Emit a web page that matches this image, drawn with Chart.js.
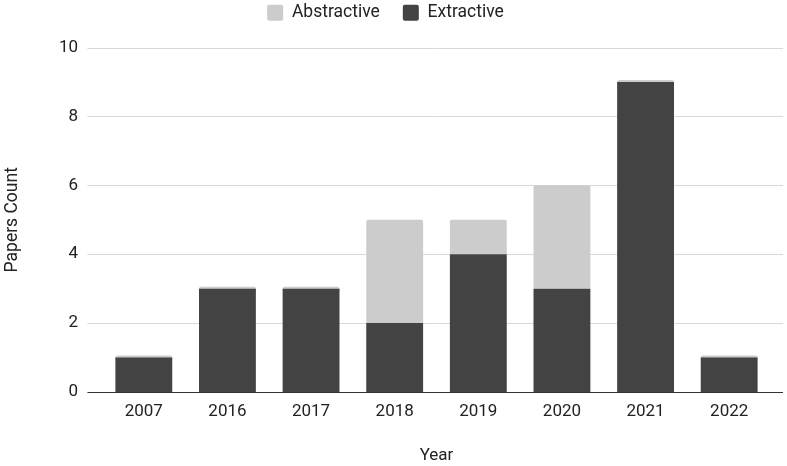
<!DOCTYPE html>
<html>
<head>
<meta charset="utf-8">
<script src="https://cdn.jsdelivr.net/npm/chart.js@4.4.1/dist/chart.umd.min.js"></script>
<style>
html,body{margin:0;padding:0;background:#fff;}
#wrap{width:787px;height:466px;}
</style>
</head>
<body>
<div id="wrap"><canvas id="c" width="787" height="466"></canvas></div>
<script>
const years = ['2007','2016','2017','2018','2019','2020','2021','2022'];
const extractive = [1, 3, 3, 2, 4, 3, 9, 1];
const abstractive = [0, 0, 0, 3, 1, 3, 0, 0];
const yTicks = [0, 2, 4, 6, 8, 10];

const TEXT = '#222222';
const FONT = 'Roboto';

const gridPlugin = {
  id: 'extGrid',
  beforeLayout(chart) {
    const l = chart.legend;
    if (l && !l._patched) {
      const f = l.fit.bind(l);
      l.fit = function () { f(); this.height += 16; };
      l._patched = true;
    }
  },
  beforeDatasetsDraw(chart) {
    const {ctx, chartArea, scales} = chart;
    const y = scales.y;
    ctx.save();
    ctx.strokeStyle = '#d9d9d9';
    ctx.lineWidth = 1;
    y.ticks.forEach(t => {
      if (t.value === 0) return;
      const py = Math.round(y.getPixelForValue(t.value)) + 0.5;
      ctx.beginPath();
      ctx.moveTo(chartArea.left - 14.6, py);
      ctx.lineTo(chartArea.right + 12, py);
      ctx.stroke();
    });
    ctx.restore();
  },
  afterDatasetsDraw(chart) {
    const {ctx, chartArea, scales} = chart;
    const py = Math.round(scales.y.getPixelForValue(0)) + 0.5;
    ctx.save();
    ctx.strokeStyle = '#333333';
    ctx.lineWidth = 1.2;
    ctx.beginPath();
    ctx.moveTo(chartArea.left - 14.6, py);
    ctx.lineTo(chartArea.right + 12, py);
    ctx.stroke();
    ctx.restore();
  }
};

new Chart(document.getElementById('c'), {
  type: 'bar',
  data: {
    labels: years,
    datasets: [
      {
        label: 'Extractive',
        data: extractive,
        backgroundColor: '#434343',
        borderWidth: 0,
        borderRadius: 0,
        barPercentage: 0.68,
        categoryPercentage: 1.0
      },
      {
        label: 'Abstractive',
        data: abstractive,
        backgroundColor: '#cccccc',
        borderWidth: 0,
        borderRadius: {topLeft: 2, topRight: 2, bottomLeft: 0, bottomRight: 0},
        borderSkipped: false,
        minBarLength: 4,
        barPercentage: 0.68,
        categoryPercentage: 1.0
      }
    ]
  },
  options: {
    responsive: false,
    devicePixelRatio: 1,
    animation: false,
    layout: {padding: {left: 0, right: 16, top: -19, bottom: 0}},
    plugins: {
      legend: {
        position: 'top',
        reverse: true,
        labels: {
          color: TEXT,
          font: {family: FONT, size: 17.5},
          boxWidth: 16,
          boxHeight: 16,
          useBorderRadius: true,
          borderRadius: 2,
          padding: 23
        }
      },
      tooltip: {enabled: false}
    },
    scales: {
      x: {
        stacked: true,
        grid: {display: false, drawTicks: false},
        border: {display: false},
        ticks: {color: TEXT, font: {family: FONT, size: 17}, padding: 10},
        title: {display: true, text: 'Year', color: TEXT, font: {family: FONT, size: 17}, padding: {top: 4, bottom: 0}},
        afterFit(s) { s.height = 74; }
      },
      y: {
        stacked: true,
        min: 0,
        max: 10,
        grid: {display: false, drawTicks: false},
        border: {display: false},
        afterBuildTicks(s) { s.ticks = yTicks.map(v => ({value: v})); },
        ticks: {color: TEXT, font: {family: FONT, size: 17}, padding: 24},
        title: {display: true, text: 'Papers Count', color: TEXT, font: {family: FONT, size: 17.5}, padding: {top: 2, bottom: 3}},
        afterFit(s) { s.width = 102; }
      }
    }
  },
  plugins: [gridPlugin]
});
</script>
</body>
</html>
